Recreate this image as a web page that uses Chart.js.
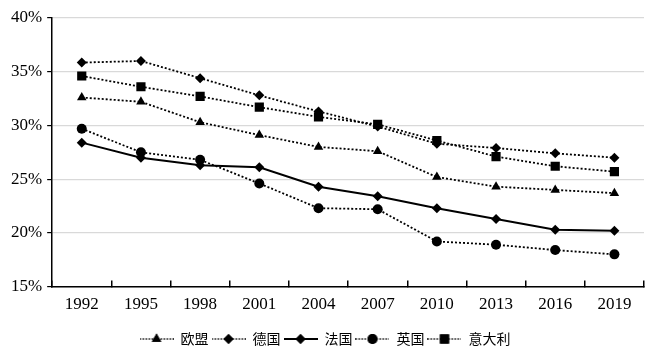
<!DOCTYPE html>
<html>
<head>
<meta charset="utf-8">
<script src="https://cdn.jsdelivr.net/npm/chart.js@4"></script>
<style>
  body { margin: 0; background: #fff; }
  #wrap { width: 660px; height: 364px; }
</style>
</head>
<body>
<div id="wrap"><canvas id="myChart"></canvas></div>
<script>
// years on the x axis
let years = ['1992', '1995', '1998', '2001', '2004', '2007', '2010', '2013', '2016', '2019'];

// share values (%)
let eu = [32.6, 32.2, 30.3, 29.1, 28.0, 27.6, 25.2, 24.3, 24.0, 23.7];
let germany = [35.85, 36.0, 34.4, 32.8, 31.3, 29.9, 28.3, 27.9, 27.4, 27.0];
let france = [28.4, 27.0, 26.3, 26.1, 24.3, 23.4, 22.3, 21.3, 20.3, 20.2];
let uk = [29.7, 27.5, 26.8, 24.6, 22.3, 22.2, 19.2, 18.9, 18.4, 18.0];
let italy = [34.6, 33.6, 32.7, 31.7, 30.8, 30.1, 28.6, 27.1, 26.2, 25.7];

let yTicks = [15, 20, 25, 30, 35, 40];

// small legend picture: line + marker
function legendSymbol(style, radius, dashed) {
	let c = document.createElement('canvas');
	c.width = 34;
	c.height = 14;
	let g = c.getContext('2d');
	g.strokeStyle = '#000';
	g.fillStyle = '#000';
	g.lineWidth = dashed ? 1.5 : 2;
	if (dashed) g.setLineDash([1.5, 1.5]);
	g.beginPath();
	g.moveTo(0, 7);
	g.lineTo(34, 7);
	g.stroke();
	g.setLineDash([]);
	Chart.helpers.drawPoint(g, { pointStyle: style, radius: radius, borderWidth: 0 }, 17, 7);
	g.fill();
	return c;
}

function series(label, data, style, radius, dashed) {
	return {
		label: label,
		data: data,
		borderColor: '#000',
		backgroundColor: '#000',
		borderWidth: dashed ? 1.8 : 2,
		borderDash: dashed ? [2, 2] : [],
		pointStyle: style,
		pointRadius: radius,
		pointHoverRadius: radius,
		pointBorderWidth: 0,
		legendStyle: legendSymbol(style, radius, dashed),
		tension: 0,
	};
}

let ctx = document.getElementById('myChart').getContext('2d');
new Chart(ctx, {
	type: 'line',
	data: {
		labels: years,
		datasets: [
			series('欧盟', eu, 'triangle', 5.5, true),
			series('德国', germany, 'rectRot', 5, true),
			series('法国', france, 'rectRot', 5, false),
			series('英国', uk, 'circle', 5, true),
			series('意大利', italy, 'rect', 6.5, true),
		],
	},
	options: {
		responsive: true,
		maintainAspectRatio: false,
		animation: false,
		layout: { padding: { top: 18, right: 16, left: 6, bottom: 8 } },
		plugins: {
			tooltip: { enabled: false },
			legend: {
				position: 'bottom',
				labels: {
					usePointStyle: true,
					pointStyleWidth: 34,
					padding: 3,
					color: '#222',
					font: { family: '"Noto Sans CJK SC", sans-serif', size: 14 },
					generateLabels: (chart) =>
						chart.data.datasets.map((ds, i) => ({
							text: ds.label,
							pointStyle: ds.legendStyle,
							fillStyle: '#000',
							strokeStyle: '#000',
							lineWidth: 0,
							hidden: false,
							datasetIndex: i,
						})),
				},
			},
		},
		scales: {
			x: {
				offset: true,
				border: { color: '#000', width: 1.5 },
				grid: { offset: true, drawOnChartArea: false, color: '#000', tickLength: -6, lineWidth: 1.5 },
				ticks: { color: '#000', padding: 14, font: { family: '"Liberation Serif", serif', size: 17 } },
			},
			y: {
				min: 15,
				max: 40,
				afterBuildTicks: (axis) => {
					axis.ticks = yTicks.map((v) => ({ value: v }));
				},
				border: { color: '#000', width: 1.5 },
				grid: { color: '#d9d9d9', lineWidth: 1.2, tickLength: 5, tickColor: '#000' },
				ticks: {
					color: '#000',
					padding: 5,
					font: { family: '"Liberation Serif", serif', size: 17 },
					callback: (v) => v + '%',
				},
			},
		},
	},
});
</script>
</body>
</html>
